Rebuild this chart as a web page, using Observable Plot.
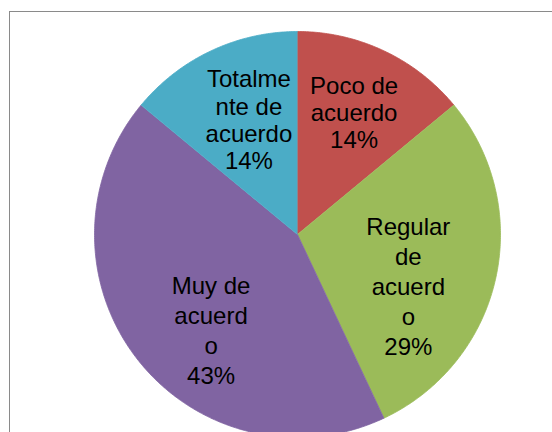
<!DOCTYPE html>
<html>
<head>
<meta charset="utf-8">
<script src="https://cdn.jsdelivr.net/npm/d3@7"></script>
<script src="https://cdn.jsdelivr.net/npm/@observablehq/plot@0.6"></script>
<style>
  html, body { margin: 0; padding: 0; background: #ffffff; }
  #wrap { position: relative; width: 552px; height: 432px; overflow: hidden; }
  #frame { position: absolute; left: 9px; top: 11px; width: 700px; height: 700px;
           border: 1px solid #8a8a8a; pointer-events: none; box-sizing: border-box; }
</style>
</head>
<body>
<div id="wrap"><div id="chart"></div><div id="frame"></div></div>
<script>
// ---- data ----
const categories = ["Poco de acuerdo", "Regular de acuerdo", "Muy de acuerdo", "Totalmente de acuerdo"];
const values = [14, 29, 43, 14];
// label text as wrapped in the reference
const labelLines = ["Poco de\nacuerdo", "Regular\nde\nacuerd\no", "Muy de\nacuerd\no", "Totalme\nnte de\nacuerdo"];
const colors = ["#C0504D", "#9BBB59", "#8064A2", "#4BACC6"];

// ---- label styling (nudges relative to slice anchor, line spacing) ----
const labelStyle = [
  {dx: 3, dy: -8, lineHeight: 1.13},
  {dx: -12, dy: 23, lineHeight: 1.25},
  {dx: 13, dy: 18, lineHeight: 1.25},
  {dx: 5, dy: -1, lineHeight: 1.14}
];

const total = d3.sum(values);
const pie = d3.pie().sort(null).value(d => d)(values);

// arc outlines in unit-circle data coordinates (y up)
const outline = [];
pie.forEach((p, i) => {
  const name = categories[i];
  outline.push({name, x: 0, y: 0});
  const n = Math.max(2, Math.ceil((p.endAngle - p.startAngle) / (Math.PI / 360)));
  for (let k = 0; k <= n; k++) {
    const a = p.startAngle + (p.endAngle - p.startAngle) * k / n;
    outline.push({name, x: Math.sin(a), y: Math.cos(a)});
  }
});

const labels = pie.map((p, i) => {
  const a = (p.startAngle + p.endAngle) / 2;
  const f = 0.62;
  return {
    name: categories[i],
    x: f * Math.sin(a),
    y: f * Math.cos(a),
    text: labelLines[i] + "\n" + Math.round(values[i] / total * 100) + "%"
  };
});

const marks = [
  Plot.line(outline, {x: "x", y: "y", z: "name", fill: "name", stroke: "name", strokeWidth: 0.8})
];
labels.forEach((l, i) => {
  marks.push(Plot.text([l], {
    x: "x", y: "y", text: "text",
    dx: labelStyle[i].dx, dy: labelStyle[i].dy, lineHeight: labelStyle[i].lineHeight,
    fontSize: 24, fill: "#000000", textAnchor: "middle"
  }));
});

const chart = Plot.plot({
  width: 552,
  height: 432,
  x: {domain: [-1, 1], range: [94, 500], axis: null},
  y: {domain: [-1, 1], range: [437, 31], axis: null},
  color: {domain: categories, range: colors},
  style: {fontFamily: "'Liberation Sans', Arial, sans-serif", background: "#ffffff"},
  marks
});
document.getElementById("chart").appendChild(chart);
</script>
</body>
</html>
